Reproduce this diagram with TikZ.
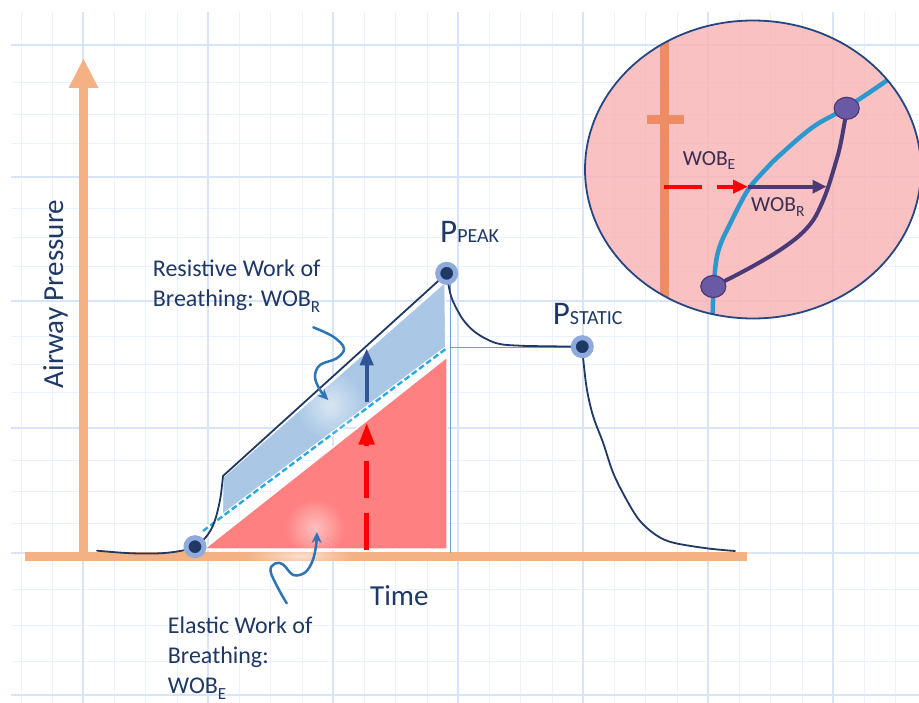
\documentclass[tikz,border=0pt]{standalone}
\usepackage{fontspec}
\setmainfont{Carlito}
\usetikzlibrary{arrows.meta,fadings,shapes.geometric}
\definecolor{gminor}{RGB}{236,242,253}
\definecolor{gmajor}{RGB}{216,228,248}
\definecolor{axisorange}{RGB}{244,177,131}
\definecolor{navy}{RGB}{31,56,100}
\definecolor{dotouter}{RGB}{143,170,220}
\definecolor{resblue}{RGB}{170,200,230}
\definecolor{elared}{RGB}{255,128,128}
\definecolor{dashcyan}{RGB}{40,170,225}
\definecolor{arrowblue}{RGB}{47,85,151}
\definecolor{pointerblue}{RGB}{46,117,182}
\definecolor{thinblue}{RGB}{120,155,210}
\definecolor{insetpink}{RGB}{248,180,180}
\definecolor{insetborder}{RGB}{37,70,130}
\definecolor{insetorange}{RGB}{240,140,100}
\definecolor{curveblue}{RGB}{44,152,206}
\definecolor{wobpurple}{RGB}{75,58,120}
\definecolor{dotpurple}{RGB}{106,90,165}
\definecolor{insettext}{RGB}{60,45,85}
\tikzfading[name=glowfade, inner color=transparent!0, outer color=transparent!100]
\begin{document}
\begin{tikzpicture}[x=1pt,y=-1pt,
  gminorline/.style={draw=gminor, line width=1pt},
  gmajorline/.style={draw=gmajor, line width=2pt},
  axisline/.style={draw=axisorange, line width=9pt},
  pcurve/.style={draw=navy, line width=1.8pt, line cap=round, line join=round},
  pdot/.style={circle, fill=navy, draw=dotouter, line width=5pt, minimum size=18pt, inner sep=0pt},
  lbl/.style={inner sep=0pt, text=navy, anchor=base west},
  ilbl/.style={inner sep=0pt, text=insettext, anchor=base west},
  pointer/.style={draw=pointerblue, line width=2.5pt, line cap=round, -{Stealth[length=11pt,width=10pt]}},
  idot/.style={ellipse, fill=dotpurple, draw=wobpurple, line width=1.2pt, minimum width=25pt, minimum height=22pt, inner sep=0pt},
  glow/.style={fill=white, path fading=glowfade}
]
\useasboundingbox (0,0) rectangle (919,703);
\fill[white] (0,0) rectangle (919,703);

% grid
\foreach \y in {82.7,115,143.3,209,238,266.7,336.7,365,393,460,491.7,523.3,589,625,661.7}
  \draw[gminorline] (11,\y) -- (919,\y);
\foreach \x in {21.7,52.9,114.6,145.8,177.1,239.6,270.8,302.1,364.6,395.8,427.1,489.6,520.8,552.1,614.6,645.8,677.1,739.6,770.8,802.1,864.6,895.8}
  \draw[gminorline] (\x,12) -- (\x,703);
\foreach \y in {45,176.7,301,428,553,695}
  \draw[gmajorline] (11,\y) -- (919,\y);
\foreach \x in {83.3,208.3,333.3,458.3,583.3,708.3,833.3}
  \draw[gmajorline] (\x,12) -- (\x,703);

% axes
\draw[axisline] (83.5,556) -- (83.5,86);
\fill[axisorange] (68.5,88) -- (83.5,59) -- (98.5,88) -- cycle;
\draw[axisline] (25,556) -- (747,556);
\fill[glow, fill opacity=0.6] (300,556) ellipse (55pt and 10pt);

% regions
\fill[elared, draw=white, line width=1.5pt, line join=round] (204,549) -- (447,357) -- (447,549) -- cycle;
\fill[resblue, draw=white, line width=1.5pt, line join=round] (223,477) -- (445,282) -- (446,349) -- (222,517) -- cycle;
\draw[white, line width=4.5pt] (203,531) -- (447,348);
\draw[dashcyan, line width=2.4pt, dash pattern=on 6pt off 3pt] (203,531) -- (447,348);

% glows
\fill[glow, fill opacity=0.55] (330,405) circle (34pt);
\fill[glow, fill opacity=0.5] (315,528) circle (30pt);

% thin helper lines
\draw[thinblue, line width=0.9pt] (450,280) -- (450,553);
\draw[thinblue, line width=0.9pt] (450,347.5) -- (582,347.5);

% arrows in main chart
\coordinate (redS) at (366.7,550);
\coordinate (redE) at (366.7,422.7);
\coordinate (bluS) at (366.7,401.7);
\coordinate (bluE) at (366.7,348.3);
\draw[red, line width=5pt, dash pattern=on 37pt off 15pt, -{Triangle[length=22pt,width=15pt]}] (redS) -- (redE);
\draw[arrowblue, line width=4pt, -{Triangle[length=17pt,width=13pt]}] (bluS) -- (bluE);

% pressure curve
\coordinate (start) at (195,546.7);
\coordinate (peak) at (446.7,273.3);
\coordinate (static) at (582.3,346.7);
\draw[pcurve] plot[smooth, tension=0.6] coordinates {(97,550.7) (130,553.2) (160,553.3) (183,550.5) (195,546.7) (206,537) (214,523) (220,500) (223,476)} -- (peak);
\draw[pcurve] plot[smooth, tension=0.55] coordinates {(446.7,273.3) (449.5,290) (453.3,302) (463.3,320) (476.7,333.3) (496.7,343.3) (520,345.7) (550,346.3) (582.3,346.7)};
\draw[pcurve] plot[smooth, tension=0.55] coordinates {(582.3,346.7) (583.3,360) (587,390) (593.3,416.7) (603.3,443.3) (613.3,473.3) (626.7,500) (640,521) (656.7,535.5) (673.3,542.7) (706.7,548.3) (735,551)};
\node[pdot] (startdot) at (start) {};
\node[pdot] (peakdot) at (peak) {};
\node[pdot] (staticdot) at (static) {};

% pointers
\draw[pointer] plot[smooth, tension=0.6] coordinates {(313.3,327.3) (333.3,336.7) (344,348.3) (336.7,358.3) (320,365) (315,376.7) (320,390) (328.3,400)};
\draw[pointer] plot[smooth, tension=0.6] coordinates {(286.7,603.3) (278,588) (270.5,571) (275,563.5) (283,564.5) (293.3,575) (305,572.5) (312.5,561) (316,546) (317,532)};

% texts
\node[rotate=90, anchor=base, inner sep=0pt, text=navy, font=\fontsize{29}{35}\selectfont] (ylabel) at (63,294) {Airway Pressure};
\node[lbl, font=\fontsize{29}{35}\selectfont] (time) at (370,605) {Time};
\node[lbl, font=\fontsize{24}{29}\selectfont] (res1) at (152.7,277) {Resistive Work of};
\node[lbl, font=\fontsize{24}{29}\selectfont] (res2) at (152.7,306.5) {Breathing: WOB\raisebox{-6.5pt}{\fontsize{17}{17}\selectfont R}};
\node[lbl, font=\fontsize{24}{29}\selectfont] (ela1) at (167.7,633) {Elastic Work of};
\node[lbl, font=\fontsize{24}{29}\selectfont] (ela2) at (167.7,663) {Breathing:};
\node[lbl, font=\fontsize{24}{29}\selectfont] (ela3) at (167.7,693.3) {WOB\raisebox{-6.5pt}{\fontsize{17}{17}\selectfont E}};
\node[lbl] (ppeak) at (440,242.7) {\fontsize{33}{33}\selectfont P\fontsize{20}{20}\selectfont PEAK};
\node[lbl] (pstatic) at (552.7,325) {\fontsize{33}{33}\selectfont P\fontsize{20}{20}\selectfont STATIC};

% inset
\begin{scope}
\clip (753,169.5) ellipse (168pt and 149pt);
\fill[insetpink, fill opacity=0.82] (753,169.5) ellipse (168pt and 149pt);
\fill[insetorange] (660,30) rectangle (669,310);
\fill[insetorange] (646.7,115) rectangle (684.3,124);
\draw[curveblue, line width=4.5pt, line cap=round] plot[smooth, tension=0.6] coordinates {(712.5,325) (713.3,295) (716,262) (721,243) (730,224) (740,204) (750,187) (765,170) (780,155) (813,127) (846.7,107.5) (895,75)};
\end{scope}
\draw[insetborder, line width=1.8pt] (753,169.5) ellipse (168pt and 149pt);
\draw[wobpurple, line width=4pt, line cap=round] plot[smooth, tension=0.6] coordinates {(713.3,286) (726.7,280) (755,265) (780,250) (800,235) (813.3,220) (822,203) (828.3,186.7) (835,165) (840,146.7) (845,120) (846.7,108.3)};
\node[idot] (ilow) at (713.3,286.5) {};
\node[idot] (ihigh) at (846.7,108.3) {};
\coordinate (iredS) at (664.3,186.7);
\coordinate (imid) at (748,186.7);
\coordinate (ipurE) at (826.5,186.7);
\draw[red, line width=4pt, dash pattern=on 38pt off 15pt, -{Triangle[length=15pt,width=13pt]}] (iredS) -- (imid);
\draw[wobpurple, line width=4pt, -{Triangle[length=14pt,width=13pt]}] (imid) -- (ipurE);
\node[ilbl, font=\fontsize{21.5}{25}\selectfont] (iwobe) at (682.7,166) {WOB\raisebox{-3.5pt}{\fontsize{15.5}{15.5}\selectfont E}};
\node[ilbl, font=\fontsize{21.5}{25}\selectfont] (iwobr) at (751,211.7) {WOB\raisebox{-5pt}{\fontsize{15.5}{15.5}\selectfont R}};
\end{tikzpicture}
\end{document}
